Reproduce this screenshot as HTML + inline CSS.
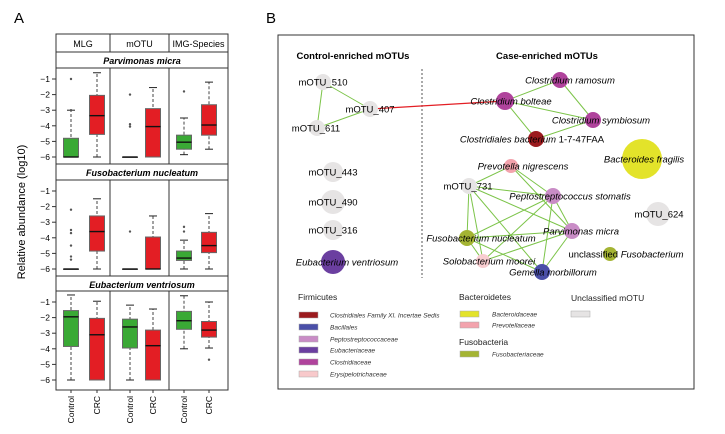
<!DOCTYPE html>
<html><head><meta charset="utf-8"><style>
body{margin:0;background:#fff;}
svg{display:block;font-family:"Liberation Sans",sans-serif;}
</style></head><body>
<svg id="fig" width="725" height="434" viewBox="0 0 725 434" xmlns="http://www.w3.org/2000/svg">
<text x="14" y="23" font-size="15">A</text>
<text x="266" y="23" font-size="15">B</text>
<text transform="translate(25,212) rotate(-90)" text-anchor="middle" font-size="11">Relative abundance (log10)</text>
<g id="boxA"></g>
<g id="net"></g>
</svg>
<script>
const NS="http://www.w3.org/2000/svg";
function mk(p,t,a){const e=document.createElementNS(NS,t);for(const k in a)e.setAttribute(k,a[k]);p.appendChild(e);return e;}
// ---- Panel A data ----
const methods=["MLG","mOTU","IMG-Species"];
const species=["Parvimonas micra","Fusobacterium nucleatum","Eubacterium ventriosum"];
const groups=["Control","CRC"];
// [whiskerLow,q1,median,q3,whiskerHigh] per species -> method -> group
const boxStats=[
 [[[-6,-6,-6,-4.8,-3],[-6,-4.55,-3.35,-2.05,-0.6]],[[-6,-6,-6,-6,-6],[-6,-6,-4.05,-2.9,-1.55]],[[-5.85,-5.5,-5.05,-4.6,-3.5],[-5.5,-4.6,-3.95,-2.65,-1.2]]],
 [[[-6,-6,-6,-6,-6],[-6,-4.85,-3.6,-2.6,-1.5]],[[-6,-6,-6,-6,-6],[-6,-6,-6,-3.95,-2.6]],[[-6,-5.45,-5.3,-4.85,-4.15],[-6,-4.95,-4.5,-3.65,-2.45]]],
 [[[-6,-3.85,-1.95,-1.55,-0.55],[-6,-6,-3.1,-2.05,-0.95]],[[-6,-3.95,-2.6,-2.1,-1.2],[-6,-6,-3.8,-2.8,-1.45]],[[-4,-2.75,-2.2,-1.6,-0.6],[-3.95,-3.25,-2.8,-2.25,-1.0]]]
];
const outliers=[
 [[[-1,-3],[]],[[-2,-3.9,-4.05],[]],[[-1.8],[]]],
 [[[-2.2,-3.5,-3.7,-4.5,-5.2,-5.4],[]],[[-3.6],[]],[[-3.3,-3.6],[]]],
 [[[],[]],[[],[]],[[],[-4.7]]]
];
const yTicks=[-1,-2,-3,-4,-5,-6];
const A=document.getElementById('boxA');
const L=56,R=228,colX=[56,110,169,228];
const panelTop=[68,180,291],panelBot=[164,276,390],stripTop=[52,164,276];
const boxCX=[[71,97],[130,153],[184,209]];
const colors=["#3aa935","#e31e24"];
function yS(p,v){return panelTop[p]+11+(-1-v)*15.6;}
mk(A,'rect',{x:L,y:34,width:R-L,height:356,fill:'none',stroke:'#333','stroke-width':1});
for(let m=0;m<3;m++){
 const t=mk(A,'text',{x:(colX[m]+colX[m+1])/2,y:47,'text-anchor':'middle','font-size':9});t.textContent=methods[m];
 
 
 if(m>0)mk(A,'line',{x1:colX[m],x2:colX[m],y1:34,y2:52,stroke:'#333'});
}
mk(A,'line',{x1:L,x2:R,y1:52,y2:52,stroke:'#333'});
for(let p=0;p<3;p++){
 mk(A,'line',{x1:L,x2:R,y1:stripTop[p],y2:stripTop[p],stroke:'#333'});
 mk(A,'line',{x1:L,x2:R,y1:panelTop[p],y2:panelTop[p],stroke:'#333'});
 const t=mk(A,'text',{x:142,y:stripTop[p]+12,'text-anchor':'middle','font-size':9,'font-weight':'bold','font-style':'italic'});t.textContent=species[p];
 
 
 for(let m=1;m<3;m++)mk(A,'line',{x1:colX[m],x2:colX[m],y1:panelTop[p],y2:panelBot[p],stroke:'#333'});
 yTicks.forEach(v=>{const y=yS(p,v);mk(A,'line',{x1:52,x2:56,y1:y,y2:y,stroke:'#333'});
  const t=mk(A,'text',{x:50,y:y+3,'text-anchor':'end','font-size':8.5});t.textContent=v.toString().replace('-','\u2212');
  
  });
 for(let m=0;m<3;m++)for(let g=0;g<2;g++){
  const s=boxStats[p][m][g],cx=boxCX[m][g],w=7.5;
  const grp=mk(A,'g',{});
  
  
  mk(grp,'line',{x1:cx,x2:cx,y1:yS(p,s[0]),y2:yS(p,s[4]),stroke:'#444','stroke-dasharray':'3,2'});
  [s[0],s[4]].forEach(v=>mk(grp,'line',{x1:cx-4,x2:cx+4,y1:yS(p,v),y2:yS(p,v),stroke:'#222'}));
  mk(grp,'rect',{x:cx-w,y:yS(p,s[3]),width:2*w,height:Math.max(0.5,yS(p,s[1])-yS(p,s[3])),fill:colors[g],stroke:'#666'});
  mk(grp,'line',{x1:cx-w,x2:cx+w,y1:yS(p,s[2]),y2:yS(p,s[2]),stroke:'#111','stroke-width':1.4});
  outliers[p][m][g].forEach(v=>mk(grp,'circle',{cx:cx,cy:yS(p,v),r:1.2,fill:'#555'}));
 }
}
for(let m=0;m<3;m++)for(let g=0;g<2;g++){
 const cx=boxCX[m][g];mk(A,'line',{x1:cx,x2:cx,y1:390,y2:393,stroke:'#333'});
 const t=mk(A,'text',{transform:`translate(${cx+3},396) rotate(-90)`,'text-anchor':'end','font-size':8.5});t.textContent=groups[g];
 
 
}
// ---- Panel B ----
const N=document.getElementById('net');
mk(N,'rect',{x:278,y:35,width:416,height:354,fill:'none',stroke:'#333','stroke-width':1});
mk(N,'line',{x1:422,x2:422,y1:69,y2:278,stroke:'#555','stroke-dasharray':'2,2'});
[["Control-enriched mOTUs",353],["Case-enriched mOTUs",547]].forEach(h=>{const t=mk(N,'text',{x:h[1],y:59,'text-anchor':'middle','font-size':9.5,'font-weight':'bold'});t.textContent=h[0];
 
 });
const C={gray:"#e6e4e4",purple:"#6b3fa0",mag:"#b0439c",dred:"#9b1b1e",yel:"#e3e32a",pink:"#f3a3ad",lpur:"#c98cc6",olive:"#a4b433",lpink:"#f8cdd0",blue:"#4a4fa8"};
const nodes=[
 ["mOTU_510",323,82,8,"gray",323,false],["mOTU_407",370,109,8,"gray",370,false],["mOTU_611",317,128,8,"gray",316,false],
 ["mOTU_443",333,172,10,"gray",333,false],["mOTU_490",333,202,12,"gray",333,false],["mOTU_316",333,230,10,"gray",333,false],
 ["Eubacterium ventriosum",333,262,12,"purple",347,true],
 ["Clostridium ramosum",560,80,8,"mag",570,true],["Clostridium bolteae",505,101,9,"mag",511,true],["Clostridium symbiosum",593,120,8,"mag",601,true],
 ["Clostridiales bacterium 1-7-47FAA",536,139,8,"dred",532,"mix"],["Bacteroides fragilis",642,159,20,"yel",644,true],
 ["Prevotella nigrescens",511,166,7,"pink",523,true],["mOTU_731",469,186,8,"gray",468,false],["Peptostreptococcus stomatis",553,196,8,"lpur",570,true],
 ["mOTU_624",658,214,12,"gray",659,false],["Fusobacterium nucleatum",467,238,8,"olive",481,true],["Parvimonas micra",572,231,8,"lpur",581,true],
 ["unclassified Fusobacterium",610,254,7,"olive",626,"uf"],["Solobacterium moorei",483,261,7,"lpink",489,true],["Gemella morbillorum",542,272,8,"blue",553,true]
];
const idx={};nodes.forEach((n,i)=>idx[n[0]]=i);
const edges=[["mOTU_510","mOTU_407"],["mOTU_510","mOTU_611"],["mOTU_611","mOTU_407"],
 ["Clostridium bolteae","Clostridium ramosum"],["Clostridium bolteae","Clostridium symbiosum"],["Clostridium ramosum","Clostridium symbiosum"],
 ["Clostridium bolteae","Clostridiales bacterium 1-7-47FAA"],["Clostridiales bacterium 1-7-47FAA","Clostridium symbiosum"],
 ["Prevotella nigrescens","mOTU_731"],["Prevotella nigrescens","Peptostreptococcus stomatis"],["Prevotella nigrescens","Parvimonas micra"],
 ["mOTU_731","Peptostreptococcus stomatis"],["mOTU_731","Parvimonas micra"],["mOTU_731","Fusobacterium nucleatum"],["mOTU_731","Solobacterium moorei"],["mOTU_731","Gemella morbillorum"],
 ["Peptostreptococcus stomatis","Fusobacterium nucleatum"],["Peptostreptococcus stomatis","Solobacterium moorei"],["Peptostreptococcus stomatis","Gemella morbillorum"],["Peptostreptococcus stomatis","Parvimonas micra"],
 ["Parvimonas micra","Fusobacterium nucleatum"],["Parvimonas micra","Solobacterium moorei"],["Parvimonas micra","Gemella morbillorum"],
 ["Fusobacterium nucleatum","Solobacterium moorei"],["Fusobacterium nucleatum","Gemella morbillorum"]];
edges.forEach(e=>{const a=nodes[idx[e[0]]],b=nodes[idx[e[1]]];const l=mk(N,'line',{x1:a[1],y1:a[2],x2:b[1],y2:b[2],stroke:'#7cc449','stroke-width':1});
 
 });
{const a=nodes[idx["mOTU_407"]],b=nodes[idx["Clostridium bolteae"]];const l=mk(N,'line',{x1:a[1],y1:a[2],x2:b[1],y2:b[2],stroke:'#e31e24','stroke-width':1.2});
 
 }
nodes.forEach(n=>{const c=mk(N,'circle',{cx:n[1],cy:n[2],r:n[3],fill:C[n[4]]});
 
 });
nodes.forEach(n=>{const t=mk(N,'text',{x:n[5],y:n[2]+3.5,'text-anchor':'middle','font-size':9.5});
 if(n[6]==="mix"){const s=mk(t,'tspan',{'font-style':'italic'});s.textContent="Clostridiales bacterium";t.appendChild(document.createTextNode(" 1-7-47FAA"));}
 else if(n[6]==="uf"){t.appendChild(document.createTextNode("unclassified "));const s=mk(t,'tspan',{'font-style':'italic'});s.textContent="Fusobacterium";}
 else{if(n[6])t.setAttribute('font-style','italic');t.textContent=n[0];}
 
 });
// legend
const legHeads=[["Firmicutes",298,300],["Bacteroidetes",459,300],["Fusobacteria",459,345],["Unclassified mOTU",571,301]];
legHeads.forEach(h=>{const t=mk(N,'text',{x:h[1],y:h[2],'font-size':8.5,fill:'#222'});t.textContent=h[0];
 
 });
const leg=[["Clostridiales Family XI. Incertae Sedis","#9b1b1e",299,315],["Bacillales","#4a4fa8",299,327],["Peptostreptococcaceae","#c98cc6",299,339],["Eubacteriaceae","#6b3fa0",299,350],["Clostridiaceae","#b0439c",299,362],["Erysipelotrichaceae","#f8c9cb",299,374],
 ["Bacteroidaceae","#e3e32a",460,314],["Prevotellaceae","#f3a3ad",460,325],["Fusobacteriaceae","#a4b433",460,354],["","#e6e4e4",571,314]];
leg.forEach(l=>{const g=mk(N,'g',{});
 
 
 mk(g,'rect',{x:l[2],y:l[3]-3,width:19,height:6,fill:l[1],stroke:'#aaa','stroke-width':0.5});
 if(l[0]){const t=mk(g,'text',{x:l[2]+(l[2]<400?31:32),y:l[3]+2.5,'font-size':6.5,'font-style':'italic',fill:'#333'});t.textContent=l[0];}});
</script>
</body></html>
